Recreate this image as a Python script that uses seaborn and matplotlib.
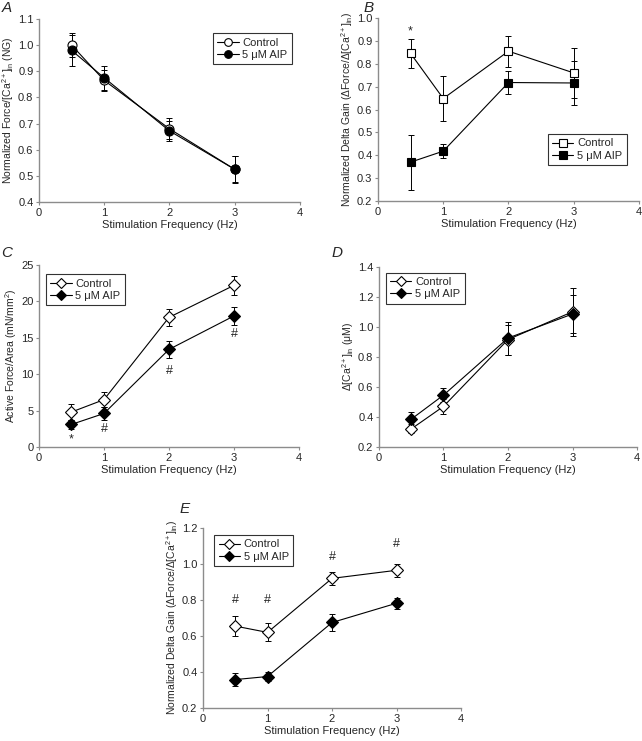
import matplotlib
matplotlib.use("Agg")
import matplotlib.pyplot as plt
import seaborn as sns
import pandas as pd
import numpy as np

sns.set_theme(style="ticks")
plt.rcParams['font.family'] = ['Liberation Sans', 'DejaVu Sans']
plt.rcParams['mathtext.fontset'] = 'custom'
plt.rcParams['mathtext.rm'] = 'Liberation Sans'
plt.rcParams['mathtext.it'] = 'Liberation Sans:italic'
plt.rcParams['mathtext.default'] = 'regular'

freq = [0.5, 1, 2, 3]
groups = ["Control", "5 \u03bcM AIP"]

# Panel A
a_ctrl = [1.00, 0.865, 0.680, 0.525]
a_ctrl_err = [0.045, 0.040, 0.040, 0.050]
a_aip = [0.980, 0.875, 0.672, 0.525]
a_aip_err = [0.060, 0.045, 0.038, 0.052]

# Panel B
b_ctrl = [0.845, 0.648, 0.855, 0.760]
b_ctrl_err = [0.065, 0.100, 0.068, 0.110]
b_aip = [0.370, 0.418, 0.718, 0.716]
b_aip_err = [0.120, 0.030, 0.050, 0.095]

# Panel C
c_ctrl = [4.8, 6.5, 17.8, 22.2]
c_ctrl_err = [1.1, 1.0, 1.2, 1.3]
c_aip = [3.1, 4.6, 13.4, 18.0]
c_aip_err = [0.6, 0.9, 1.2, 1.2]

# Panel D
d_ctrl = [0.320, 0.470, 0.915, 1.100]
d_ctrl_err = [0.030, 0.050, 0.100, 0.160]
d_aip = [0.385, 0.545, 0.925, 1.085]
d_aip_err = [0.050, 0.045, 0.110, 0.125]

# Panel E
e_ctrl = [0.655, 0.620, 0.920, 0.965]
e_ctrl_err = [0.055, 0.050, 0.035, 0.035]
e_aip = [0.358, 0.375, 0.675, 0.782]
e_aip_err = [0.035, 0.025, 0.045, 0.030]

fig = plt.figure(figsize=(6.42, 7.41), dpi=100)
FS = 8
SPINE = '#8c8c8c'

gain_label = r"Normalized Delta Gain ($\Delta$Force/$\Delta$[Ca$^{2+}$]$_{in}$)"


def panel(rect, ctrl, ctrl_err, aip, aip_err, marker, ylim, yticks, yfmt, ylabel,
          leg_anchor, letter, letter_xy, ms=6.5):
    ax = fig.add_axes(rect)
    df = pd.DataFrame({
        "freq": freq * 2,
        "val": list(ctrl) + list(aip),
        "err": list(ctrl_err) + list(aip_err),
        "group": [groups[0]] * 4 + [groups[1]] * 4,
    })
    for g in groups:
        sub = df[df.group == g]
        ax.errorbar(sub.freq, sub.val, yerr=sub.err, fmt='none', ecolor='black',
                    elinewidth=0.7, capsize=2, capthick=0.7, zorder=2)
    sns.lineplot(data=df, x="freq", y="val", hue="group", style="group",
                 markers={groups[0]: marker, groups[1]: marker},
                 dashes=False, palette={groups[0]: 'black', groups[1]: 'black'},
                 linewidth=0.8, markersize=ms, ax=ax, zorder=3, legend=False)
    for line, face in zip(ax.lines[-2:], ["white", "black"]):
        line.set_markerfacecolor(face)
        line.set_markeredgecolor('black')
        line.set_markeredgewidth(0.8)
    handles = [plt.Line2D([], [], color='black', lw=0.8, marker=marker, ms=ms * 0.85,
                          mfc=f, mec='black', mew=0.8) for f in ["white", "black"]]
    leg = ax.legend(handles, groups, loc='upper left', bbox_to_anchor=leg_anchor,
                    borderaxespad=0, fontsize=FS, frameon=True,
                    fancybox=False, edgecolor='black', handlelength=1.9,
                    handletextpad=0.35, borderpad=0.4, labelspacing=0.2)
    leg.get_frame().set_linewidth(0.8)
    ax.set_xlim(0, 4)
    ax.set_xticks([0, 1, 2, 3, 4])
    ax.set_ylim(*ylim)
    ax.set_yticks(yticks)
    ax.set_yticklabels([yfmt.format(v) for v in yticks])
    ax.set_xlabel("Stimulation Frequency (Hz)", fontsize=FS, labelpad=2)
    ax.set_ylabel(ylabel, fontsize=FS - 0.5, labelpad=1.5)
    ax.tick_params(labelsize=FS, length=2.5, width=0.8, color=SPINE, pad=1.5)
    for s in ['top', 'right']:
        ax.spines[s].set_visible(False)
    for s in ['left', 'bottom']:
        ax.spines[s].set_color(SPINE)
        ax.spines[s].set_linewidth(1.0)
    fig.text(letter_xy[0], letter_xy[1], letter, fontsize=11, style='italic',
             ha='left', va='top')
    return ax


axA = panel([0.0607, 0.7274, 0.4065, 0.247], a_ctrl, a_ctrl_err, a_aip, a_aip_err, 'o',
            (0.4, 1.1), np.round(np.arange(0.4, 1.11, 0.1), 1), "{:.1f}",
            r"Normalized Force/[Ca$^{2+}$]$_{in}$ (NG)",
            (0.667, 0.923), "A", (0.002, 0.999))

axB = panel([0.5888, 0.7287, 0.4065, 0.247], b_ctrl, b_ctrl_err, b_aip, b_aip_err, 's',
            (0.2, 1.0), np.round(np.arange(0.2, 1.01, 0.1), 1), "{:.1f}",
            gain_label, (0.651, 0.366), "B", (0.566, 0.999), ms=6)
axB.text(0.5, 0.94, "*", ha='center', va='center', fontsize=9)

axC = panel([0.0607, 0.3968, 0.405, 0.2456], c_ctrl, c_ctrl_err, c_aip, c_aip_err, 'D',
            (0, 25), [0, 5, 10, 15, 20, 25], "{:d}",
            r"Active Force/Area (mN/mm$^2$)", (0.027, 0.95), "C", (0.002, 0.668), ms=6)
axC.text(0.5, 1.0, "*", ha='center', va='center', fontsize=9)
for x, y in [(1, 2.5), (2, 10.4), (3, 15.5)]:
    axC.text(x, y, "#", ha='center', va='center', fontsize=9)

axD = panel([0.5903, 0.3968, 0.402, 0.2433], d_ctrl, d_ctrl_err, d_aip, d_aip_err, 'D',
            (0.2, 1.4), np.round(np.arange(0.2, 1.41, 0.2), 1), "{:.1f}",
            r"$\Delta$[Ca$^{2+}$]$_{in}$ ($\mu$M)", (0.027, 0.967), "D", (0.517, 0.668), ms=6)

axE = panel([0.3162, 0.0445, 0.402, 0.243], e_ctrl, e_ctrl_err, e_aip, e_aip_err, 'D',
            (0.2, 1.2), np.round(np.arange(0.2, 1.21, 0.2), 1), "{:.1f}",
            gain_label, (0.043, 0.961), "E", (0.279, 0.322), ms=6)
for x, y in [(0.5, 0.8), (1, 0.8), (2, 1.04), (3, 1.11)]:
    axE.text(x, y, "#", ha='center', va='center', fontsize=9)

fig.savefig("out.png", dpi=100)
